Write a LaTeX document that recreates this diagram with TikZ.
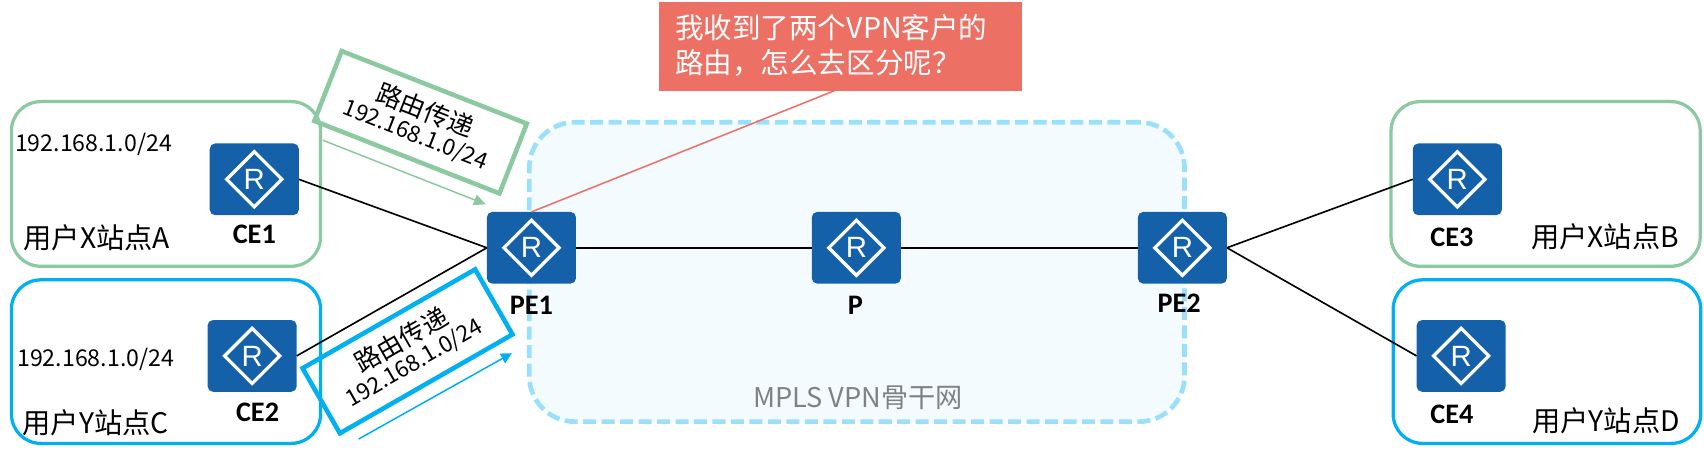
\documentclass[tikz,border=0pt]{standalone}
\usepackage{fontspec}
\usetikzlibrary{shapes.geometric,arrows.meta}
\setmainfont{Noto Sans CJK SC}
\newfontfamily\lblfont[BoldFont=Carlito Bold]{Carlito}
\newfontfamily\rfont{Liberation Sans}
\definecolor{sitegreen}{HTML}{8CC9A1}
\definecolor{siteblue}{HTML}{00B0F0}
\definecolor{routerblue}{HTML}{1461A9}
\definecolor{cloudfill}{HTML}{F3FBFF}
\definecolor{cloudline}{HTML}{9BE0FB}
\definecolor{callred}{HTML}{EC7063}
\definecolor{cloudtext}{HTML}{7F8285}
\newcommand{\fsz}[1]{\fontsize{#1}{#1}\selectfont}
\tikzset{
  x=1pt,y=-1pt,
  site/.style={draw,line width=3pt,rounded corners=27pt,anchor=north west,inner sep=0pt,outer sep=0pt},
  router/.style={fill=routerblue,rounded corners=5pt,minimum width=82pt,minimum height=66pt,inner sep=0pt,outer sep=0pt},
  rdiamond/.style={draw=white,line width=3pt,shape=diamond,minimum width=52pt,minimum height=52pt,inner sep=0pt,text=white,font=\rfont\fsz{27}},
  devlabel/.style={font=\lblfont\bfseries\fsz{26},text=black,inner sep=0pt},
  sitetext/.style={font=\fsz{26},text=black,inner sep=0pt},
  iptext/.style={font=\fsz{21.3},text=black,inner sep=0pt},
  tag/.style={draw,line width=4.2pt,fill=none,align=center,inner sep=0pt,outer sep=0pt,text=black,minimum width=183pt,minimum height=69pt},
  link/.style={draw=black,line width=1.5pt},
}
\newcommand{\routerat}[2]{%
  \node[router] (#1) at #2 {};
  \node[rdiamond] at #2 {R};
}
\newcommand{\tagtext}{{\fsz{23.6}路由传递}\\[3pt]{\fsz{20.8}192.168.1.0/24}}
\begin{document}
\begin{tikzpicture}
\useasboundingbox (0,0) rectangle (1568,422.4);
% backbone
\node[draw=cloudline,fill=cloudfill,line width=4.3pt,dash pattern=on 12pt off 5pt,rounded corners=42pt,minimum width=603pt,minimum height=275.5pt,inner sep=0pt,outer sep=0pt,anchor=north west] (cloud) at (487,112.5) {};
\node[font=\fsz{25},text=cloudtext,inner sep=0pt,anchor=west] (cloudlbl) at (693,366) {MPLS VPN骨干网};
% sites
\node[site,draw=sitegreen,minimum width=284.5pt,minimum height=151.5pt] (siteA) at (10.5,93.5) {};
\node[site,draw=siteblue,minimum width=284.5pt,minimum height=150.5pt] (siteC) at (10.5,257.5) {};
\node[site,draw=sitegreen,minimum width=284.5pt,minimum height=151.5pt] (siteB) at (1280,93.5) {};
\node[site,draw=siteblue,minimum width=283pt,minimum height=150.5pt] (siteD) at (1282,257.5) {};
% routers
\routerat{CEa}{(234,165)}
\routerat{CEb}{(232,327.5)}
\routerat{PEa}{(489,228)}
\routerat{Pm}{(788,228)}
\routerat{PEb}{(1088,228)}
\routerat{CEc}{(1341,165)}
\routerat{CEd}{(1344.5,327.5)}
% links
\draw[link] (CEa.east) -- (PEa.west);
\draw[link] (CEb.east) -- (PEa.west);
\draw[link] (PEa.east) -- (Pm.west);
\draw[link] (Pm.east) -- (PEb.west);
\draw[link] (PEb.east) -- (CEc.west);
\draw[link] (PEb.east) -- (CEd.west);
% device labels
\node[devlabel] (lCEa) at (234,216) {CE1};
\node[devlabel] (lCEb) at (237,379) {CE2};
\node[devlabel] (lPEa) at (489,281) {PE1};
\node[devlabel] (lPm) at (787,281) {P};
\node[devlabel] (lPEb) at (1085,279) {PE2};
\node[devlabel] (lCEc) at (1336,218) {CE3};
\node[devlabel] (lCEd) at (1336,381) {CE4};
% site texts
\node[iptext] (ipA) at (86,133) {192.168.1.0/24};
\node[iptext] (ipC) at (88,331) {192.168.1.0/24};
\node[sitetext] (tA) at (89,219) {用户X站点A};
\node[sitetext] (tC) at (88,389) {用户Y站点C};
\node[sitetext] (tB) at (1477,218) {用户X站点B};
\node[sitetext] (tD) at (1478,387) {用户Y站点D};
% callout
\node[fill=callred,minimum width=334pt,minimum height=81.4pt,inner sep=0pt,outer sep=0pt,anchor=north west] (call) at (606,2) {};
\node[font=\fsz{26.3},text=white,align=left,inner sep=0pt,anchor=west] (calltext) at (621,42) {我收到了两个VPN客户的\\[6pt]路由，怎么去区分呢？};
\coordinate (callfoot) at (768,83.4);
\draw[draw=callred,line width=1.4pt] (callfoot) -- (PEa.north);
% route tags
\node[tag,draw=sitegreen,rotate=-21.4] (tagG) at (387,112.5) {\tagtext};
\node[tag,draw=siteblue,rotate=29.8] (tagB) at (375,323.3) {\tagtext};
\coordinate (gs) at (297,129);
\coordinate (ge) at (447,188);
\coordinate (bs) at (330,404);
\coordinate (be) at (471,325);
\draw[draw=sitegreen,line width=1.4pt,-{Triangle[length=11pt,width=10pt]}] (gs) -- (ge);
\draw[draw=siteblue,line width=1.4pt,-{Triangle[length=10pt,width=10pt]}] (bs) -- (be);
\end{tikzpicture}
\end{document}
